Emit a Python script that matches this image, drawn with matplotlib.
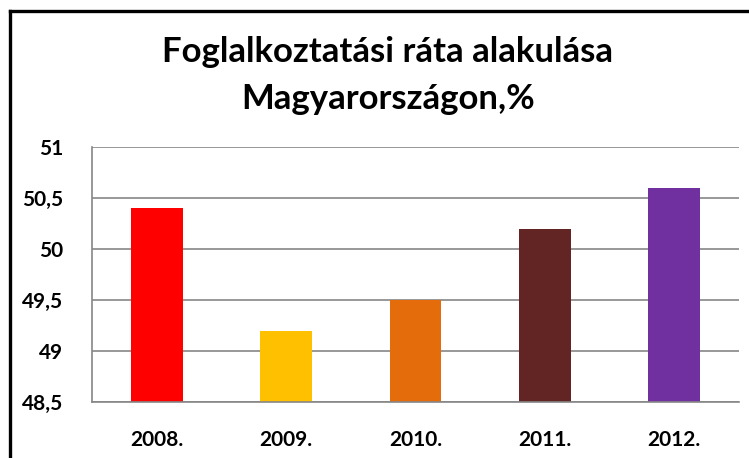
import matplotlib
matplotlib.use("Agg")
import matplotlib.pyplot as plt
from matplotlib.lines import Line2D

categories = ["2008.", "2009.", "2010.", "2011.", "2012."]
values = [50.4, 49.2, 49.5, 50.2, 50.6]
colors = ["#FF0000", "#FFC000", "#E46C0A", "#632523", "#7030A0"]
yticks = [48.5, 49, 49.5, 50, 50.5, 51]
ytick_labels = ["48,5", "49", "49,5", "50", "50,5", "51"]
title_lines = ["Foglalkoztatási ráta alakulása", "Magyarországon,%"]

W, H = 749, 458
fig = plt.figure(figsize=(W / 100, H / 100), dpi=100)
plt.rcParams['font.family'] = ['Lato', 'DejaVu Sans']

x0, x1, y0, y1 = 92, 739, 147, 402
ax = fig.add_axes([x0 / W, 1 - y1 / H, (x1 - x0) / W, (y1 - y0) / H])
ax.bar(range(len(categories)), values, width=0.40, color=colors, bottom=0)
ax.set_xlim(-0.5, len(categories) - 0.5)
ax.set_ylim(48.5, 51)
ax.set_yticks(yticks)
ax.set_yticklabels(ytick_labels, fontsize=15, fontweight='bold')
ax.set_xticks(range(len(categories)))
ax.set_xticklabels(categories, fontsize=15, fontweight='bold')
ax.tick_params(axis='x', length=0, pad=20)
ax.tick_params(axis='y', length=0, pad=21)
ax.yaxis.grid(True, color='#868686', linewidth=1.2)
ax.set_axisbelow(True)
for s in ['top', 'right']:
    ax.spines[s].set_visible(False)
for s in ['left', 'bottom']:
    ax.spines[s].set_color('#868686')
    ax.spines[s].set_linewidth(1.2)

for txt, yb in zip(title_lines, [62, 109]):
    fig.text(388 / W, 1 - yb / H, txt, ha='center', va='baseline',
             fontsize=25, fontweight='bold')

# figure frame (left and top)
fig.add_artist(Line2D([9.5 / W, 9.5 / W], [0, 1 - 11 / H], transform=fig.transFigure,
                      color='black', linewidth=2.4))
fig.add_artist(Line2D([9.5 / W, 1], [1 - 11 / H, 1 - 11 / H], transform=fig.transFigure,
                      color='black', linewidth=2.4))

fig.savefig("out.png", dpi=100)
